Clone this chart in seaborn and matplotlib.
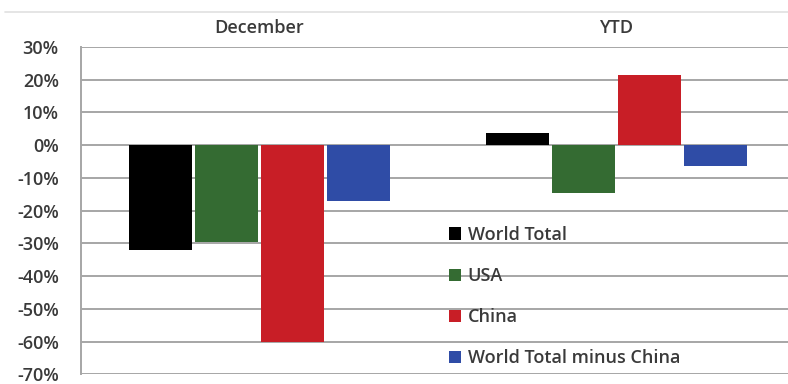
import matplotlib
matplotlib.use("Agg")
import matplotlib.pyplot as plt
import seaborn as sns
import pandas as pd
from matplotlib.lines import Line2D
from matplotlib.ticker import FuncFormatter, MultipleLocator

periods = ["December", "YTD"]
series = ["World Total", "USA", "China", "World Total minus China"]
december = [-32.0, -29.5, -60.0, -17.0]
ytd = [3.8, -14.5, 21.5, -6.5]
colors = ["#000000", "#346b32", "#c81e26", "#2f4ca6"]

rows = []
for s, d, y in zip(series, december, ytd):
    rows.append({"period": periods[0], "series": s, "value": d})
    rows.append({"period": periods[1], "series": s, "value": y})
df = pd.DataFrame(rows)

sns.set_style("white")
plt.rcParams["font.family"] = ["Open Sans", "DejaVu Sans"]

fig = plt.figure(figsize=(7.88, 3.84), dpi=100)
W, H = 788, 384
left, right, top, bottom = 81, 795, 47, 374.3
ax = fig.add_axes([left / W, 1 - bottom / H, (right - left) / W, (bottom - top) / H])

sns.barplot(data=df, x="period", y="value", hue="series", hue_order=series,
            order=periods, palette=colors, width=0.74, gap=0.05,
            saturation=1, linewidth=0, ax=ax, legend=True)

ax.set_ylim(-70, 30)
ax.set_xlim(-0.5, 1.5)
ax.yaxis.set_major_locator(MultipleLocator(10))
ax.yaxis.set_major_formatter(FuncFormatter(lambda v, p: f"{int(round(v))}%"))
ax.grid(axis="y", color="#a6a6a6", linewidth=1.4)
ax.set_axisbelow(True)
for sp in ["top", "right", "bottom"]:
    ax.spines[sp].set_visible(False)
ax.spines["left"].set_color("#a6a6a6")
ax.spines["left"].set_linewidth(1.4)
ax.tick_params(axis="y", length=5, width=1.4, color="#a6a6a6",
               labelsize=13, labelcolor="#3a3a3a", pad=11)
for t in ax.get_yticklabels():
    t.set_fontweight("semibold")
ax.xaxis.tick_top()
ax.tick_params(axis="x", length=0, labelsize=13, labelcolor="#3a3a3a", pad=7.5)
for t in ax.get_xticklabels():
    t.set_fontweight("semibold")
ax.set_xlabel("")
ax.set_ylabel("")

handles, labels = ax.get_legend_handles_labels()
leg = ax.legend(handles, labels, loc="upper left", bbox_to_anchor=(0.505, 0.475),
                frameon=False, prop={"size": 13, "weight": "semibold"},
                handlelength=0.7, handleheight=0.7,
                handletextpad=0.35, labelspacing=1.28, borderaxespad=0)
for t in leg.get_texts():
    t.set_color("#3a3a3a")

fig.add_artist(Line2D([5 / W, 1], [1 - 12 / H, 1 - 12 / H], color="#e0e0e0", linewidth=1.2))

fig.savefig("out.png", dpi=100)
